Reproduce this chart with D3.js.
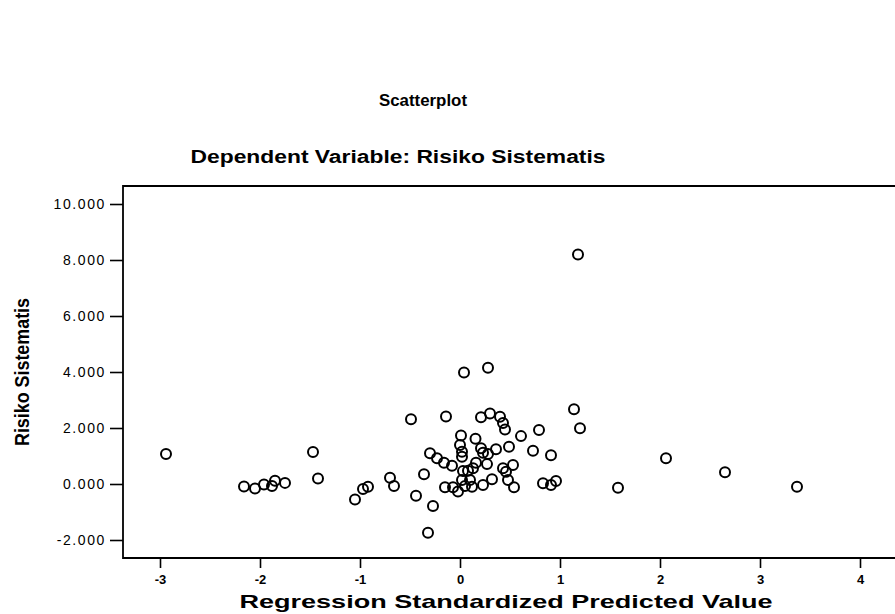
<!DOCTYPE html>
<html>
<head>
<meta charset="utf-8">
<script src="https://cdn.jsdelivr.net/npm/d3@7"></script>
<style>
  body { margin: 0; background: #fff; }
  svg { display: block; }
  text { font-family: "Liberation Sans", Arial, sans-serif; fill: #000; }
</style>
</head>
<body>
<div id="chart"></div>
<script>
// Regression standardized predicted value (x) vs Risiko Sistematis (y)
const predicted = [-2.94, -2.16, -2.05, -1.96, -1.88, -1.85, -1.75, -1.47, -1.42, -1.05,
    -0.97, -0.92, -0.70, -0.66, -0.49, -0.44, -0.36, -0.27, -0.32, -0.30,
    -0.23, -0.16, -0.14, -0.15, -0.08, -0.07, 0.01, 0.00, 0.02, 0.02,
    0.03, 0.02, -0.02, 0.05, 0.10, 0.08, 0.12, 0.13, 0.16, 0.155,
    0.21, 0.21, 0.23, 0.28, 0.23, 0.27, 0.30, 0.32, 0.36, 0.40,
    0.43, 0.45, 0.43, 0.46, 0.49, 0.48, 0.53, 0.54, 0.61, 0.73,
    0.79, 0.83, 0.91, 0.91, 0.96, 1.14, 1.20, 1.18, 0.04, 0.28,
    1.58, 2.06, 2.65, 3.37];
const risiko = [1.07, -0.09, -0.16, -0.02, -0.07, 0.12, 0.04, 1.14, 0.20, -0.55,
    -0.18, -0.10, 0.22, -0.07, 2.31, -0.42, 0.35, -0.79, -1.74, 1.10,
    0.92, 0.76, 2.41, -0.12, 0.65, -0.12, 1.73, 1.39, 1.15, 0.97,
    0.46, 0.14, -0.27, -0.07, 0.14, 0.47, -0.10, 0.56, 0.76, 1.62,
    2.38, 1.28, 1.12, 1.07, -0.04, 0.71, 2.52, 0.17, 1.24, 2.40,
    2.18, 1.95, 0.56, 0.44, 1.33, 0.14, 0.68, -0.12, 1.71, 1.19,
    1.93, 0.03, 1.03, -0.04, 0.11, 2.67, 1.99, 8.20, 3.98, 4.15,
    -0.13, 0.92, 0.42, -0.10];
const xTicks = [-3, -2, -1, 0, 1, 2, 3, 4];
const yTicks = [-2, 0, 2, 4, 6, 8, 10];

const points = predicted.map(function(d, i) { return {x: d, y: risiko[i]}; });

const width = 895,
    height = 614,
    plotLeft = 123, plotTop = 186, plotRight = 905, plotBottom = 558;

const svg = d3.select("#chart").append("svg")
    .attr("width", width)
    .attr("height", height);

const x = d3.scaleLinear()
    .domain([-3.37, 4.45])
    .range([plotLeft, plotRight]);

const y = d3.scaleLinear()
    .domain([-2.643, 10.643])
    .range([plotBottom, plotTop]);

// SPSS prints a plain hyphen for negatives
function hyphen(f) {
    return function(d) { return f(d).replace("\u2212", "-"); };
}

// titles
svg.append("text")
    .attr("x", 423).attr("y", 106)
    .attr("text-anchor", "middle")
    .style("font-size", "17px").style("font-weight", "bold")
    .attr("textLength", 88)
    .attr("lengthAdjust", "spacingAndGlyphs")
    .text("Scatterplot");

svg.append("text")
    .attr("x", 398).attr("y", 163)
    .attr("text-anchor", "middle")
    .style("font-size", "18px").style("font-weight", "bold")
    .attr("textLength", 415)
    .attr("lengthAdjust", "spacingAndGlyphs")
    .text("Dependent Variable: Risiko Sistematis");

// axes
const yAxis = svg.append("g")
    .attr("transform", "translate(" + plotLeft + ",0)")
    .call(d3.axisLeft(y).tickValues(yTicks).tickSize(13).tickPadding(4)
        .tickFormat(hyphen(d3.format(".3f"))));

const xAxis = svg.append("g")
    .attr("transform", "translate(0," + plotBottom + ")")
    .call(d3.axisBottom(x).tickValues(xTicks).tickSize(10).tickPadding(7)
        .tickFormat(hyphen(d3.format("d"))));

yAxis.selectAll("text")
    .style("font-size", "14px")
    .style("letter-spacing", "1.6px");
xAxis.selectAll("text")
    .style("font-size", "13px")
    .style("font-weight", "bold");
svg.selectAll(".domain").remove();
svg.selectAll(".tick line").attr("stroke", "#000").attr("stroke-width", 1.6);

// frame (right side runs off the page)
svg.append("path")
    .attr("d", "M" + plotRight + "," + plotTop + "H" + plotLeft + "V" + plotBottom + "H" + plotRight)
    .attr("fill", "none")
    .attr("stroke", "#000")
    .attr("stroke-width", 1.8);

// axis titles
svg.append("text")
    .attr("x", 506).attr("y", 608)
    .attr("text-anchor", "middle")
    .style("font-size", "19px").style("font-weight", "bold")
    .attr("textLength", 533)
    .attr("lengthAdjust", "spacingAndGlyphs")
    .text("Regression Standardized Predicted Value");

svg.append("text")
    .attr("transform", "translate(29," + ((plotTop + plotBottom) / 2) + ") rotate(-90)")
    .attr("text-anchor", "middle")
    .style("font-size", "20px").style("font-weight", "bold")
    .attr("textLength", 148)
    .attr("lengthAdjust", "spacingAndGlyphs")
    .text("Risiko Sistematis");

// points
svg.append("g")
    .selectAll("circle")
    .data(points)
    .enter().append("circle")
    .attr("cx", function(d) { return x(d.x); })
    .attr("cy", function(d) { return y(d.y); })
    .attr("r", 5)
    .attr("fill", "none")
    .attr("stroke", "#000")
    .attr("stroke-width", 2);
</script>
</body>
</html>
